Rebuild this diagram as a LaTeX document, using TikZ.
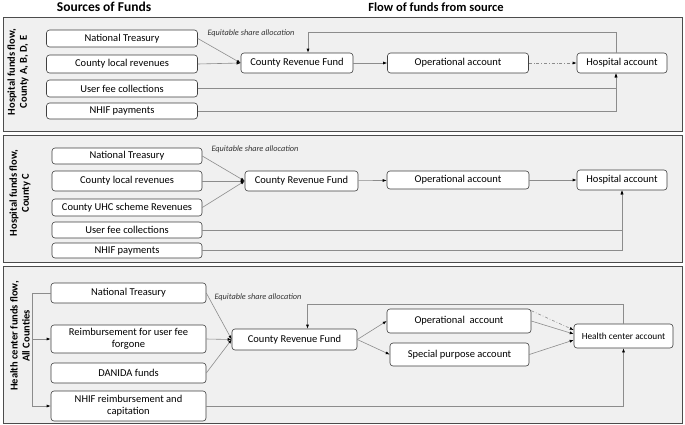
\documentclass[tikz,border=0pt]{standalone}
\usepackage{fontspec}
\setmainfont{Carlito}
\usetikzlibrary{arrows.meta}
\tikzset{
    panel/.style={draw=black!70, fill=black!6, line width=0.8pt},
    box/.style={draw=black!75, fill=white, rounded corners=3pt, line width=0.6pt, inner sep=1pt, align=center, font=\fontsize{10.5}{12}\selectfont},
    flow/.style={draw=black!45, line width=0.6pt, -{Latex[length=4pt,width=3pt,color=black]}},
    lbl/.style={font=\itshape\fontsize{8.3}{9}\selectfont, text=black!80},
    ptitle/.style={rotate=90, align=center, font=\bfseries\fontsize{10.5}{12}\selectfont},
    hdr/.style={font=\bfseries\fontsize{12.5}{14}\selectfont}
}
\begin{document}
\begin{tikzpicture}[x=1pt, y=-1pt]
        \useasboundingbox (0,0) rectangle (685,424);
        \node[hdr, font=\bfseries\fontsize{13.5}{15}\selectfont] (hsrc) at (104,7) {Sources of Funds};
        \node[hdr] (hflow) at (436,7) {Flow of funds from source};

        \draw[panel] (3,17) rectangle (682,131);
        \node[ptitle] (t1) at (18,72) {Hospital funds flow,\\County A, B, D, E};
        \node[box, minimum width=151pt, minimum height=17pt] (nt1) at (122,38.5) {National Treasury};
        \node[box, minimum width=151pt, minimum height=18pt] (clr1) at (122,64) {County local revenues};
        \node[box, minimum width=151pt, minimum height=17pt] (ufc1) at (122,88.5) {User fee collections};
        \node[box, minimum width=151pt, minimum height=16pt] (nhif1) at (122,111) {NHIF payments};
        \node[box, minimum width=112pt, minimum height=20pt] (crf1) at (297,63) {County Revenue Fund};
        \node[box, minimum width=141pt, minimum height=20pt] (op1) at (458,63) {Operational account};
        \node[box, minimum width=90pt, minimum height=20pt] (hosp1) at (622,63) {Hospital account};
        \node[lbl] (esa1) at (251,33) {Equitable share allocation};
        \draw[flow] (nt1.east) -- (crf1.west);
        \draw[flow] (clr1.east) -- (crf1.west);
        \draw[flow] (crf1) -- (op1);
        \draw[flow, dash dot] (op1) -- (hosp1);
        \draw[flow] ([xshift=-6pt]hosp1.north) -- ++(0,-20) -| ([xshift=11pt]crf1.north);
        \draw[flow] (ufc1.east) -| ([xshift=-6pt]hosp1.south);
        \draw[flow] (nhif1.east) -| ([xshift=-6pt]hosp1.south);

        \draw[panel] (3,135) rectangle (682,262);
        \node[ptitle] (t2) at (20,193) {Hospital funds flow,\\County C};
        \node[box, minimum width=150pt, minimum height=16pt] (nt2) at (127,156) {National Treasury};
        \node[box, minimum width=150pt, minimum height=20pt] (clr2) at (127,181) {County local revenues};
        \node[box, minimum width=150pt, minimum height=17pt] (uhc2) at (127,207.5) {County UHC scheme Revenues};
        \node[box, minimum width=150pt, minimum height=16pt] (ufc2) at (127,230) {User fee collections};
        \node[box, minimum width=150pt, minimum height=15pt] (nhif2) at (127,250.5) {NHIF payments};
        \node[box, minimum width=113pt, minimum height=20pt] (crf2) at (301.5,181) {County Revenue Fund};
        \node[box, minimum width=142pt, minimum height=18pt] (op2) at (458,180) {Operational account};
        \node[box, minimum width=90pt, minimum height=20pt] (hosp2) at (622,180) {Hospital account};
        \node[lbl] (esa2) at (255,149) {Equitable share allocation};
        \draw[flow] (nt2.east) -- (crf2.west);
        \draw[flow] (clr2.east) -- (crf2.west);
        \draw[flow] (uhc2.east) -- (crf2.west);
        \draw[flow] (crf2) -- (op2);
        \draw[flow] (op2) -- (hosp2);
        \draw[flow] (ufc2.east) -| (hosp2.south);
        \draw[flow] (nhif2.east) -| (hosp2.south);

        \draw[panel] (3,266) rectangle (682,423);
        \node[ptitle] (t3) at (20,336) {Health center funds flow,\\All Counties};
        \node[box, minimum width=155pt, minimum height=20pt] (nt3) at (128.5,293) {National Treasury};
        \node[box, minimum width=155pt, minimum height=28pt] (reimb3) at (128.5,339) {Reimbursement for user fee\\forgone};
        \node[box, minimum width=155pt, minimum height=20pt] (danida3) at (128.5,373) {DANIDA funds};
        \node[box, minimum width=155pt, minimum height=30pt] (nhifc3) at (128.5,406) {NHIF reimbursement and\\capitation};
        \node[box, minimum width=125pt, minimum height=21pt] (crf3) at (294.5,339.5) {County Revenue Fund};
        \node[box, minimum width=144pt, minimum height=24pt] (op3) at (459,321) {Operational\ \ account};
        \node[box, minimum width=139pt, minimum height=23pt] (spa3) at (459.5,354.5) {Special purpose account};
        \node[box, minimum width=99pt, minimum height=24pt, font=\fontsize{9.3}{10}\selectfont] (hc3) at (623.5,336) {Health center account};
        \node[lbl] (esa3) at (258,297) {Equitable share allocation};
        \coordinate (brk) at ([xshift=-18pt]nt3.west);
        \draw[flow] (nt3.west) -- (brk) |- (nhifc3.west);
        \draw[flow] (brk |- reimb3.west) -- (reimb3.west);
        \draw[flow] (nt3.east) -- (crf3.west);
        \draw[flow] (reimb3.east) -- (crf3.west);
        \draw[flow] (danida3.east) -- (crf3.west);
        \draw[flow] (crf3.east) -- (op3.west);
        \draw[flow] (crf3.east) -- (spa3.west);
        \draw[flow, dash dot] ([yshift=-2pt]op3.north east) -- ([yshift=6pt]hc3.west);
        \draw[flow] (op3.east) -- ([yshift=2pt]hc3.west);
        \draw[flow] (spa3.east) -- ([yshift=-4pt]hc3.west);
        \draw[flow] (hc3.north) -- ++(0,-19) -| ([xshift=13pt]crf3.north);
        \draw[flow] (nhifc3.east) -| (hc3.south);
\end{tikzpicture}
\end{document}
